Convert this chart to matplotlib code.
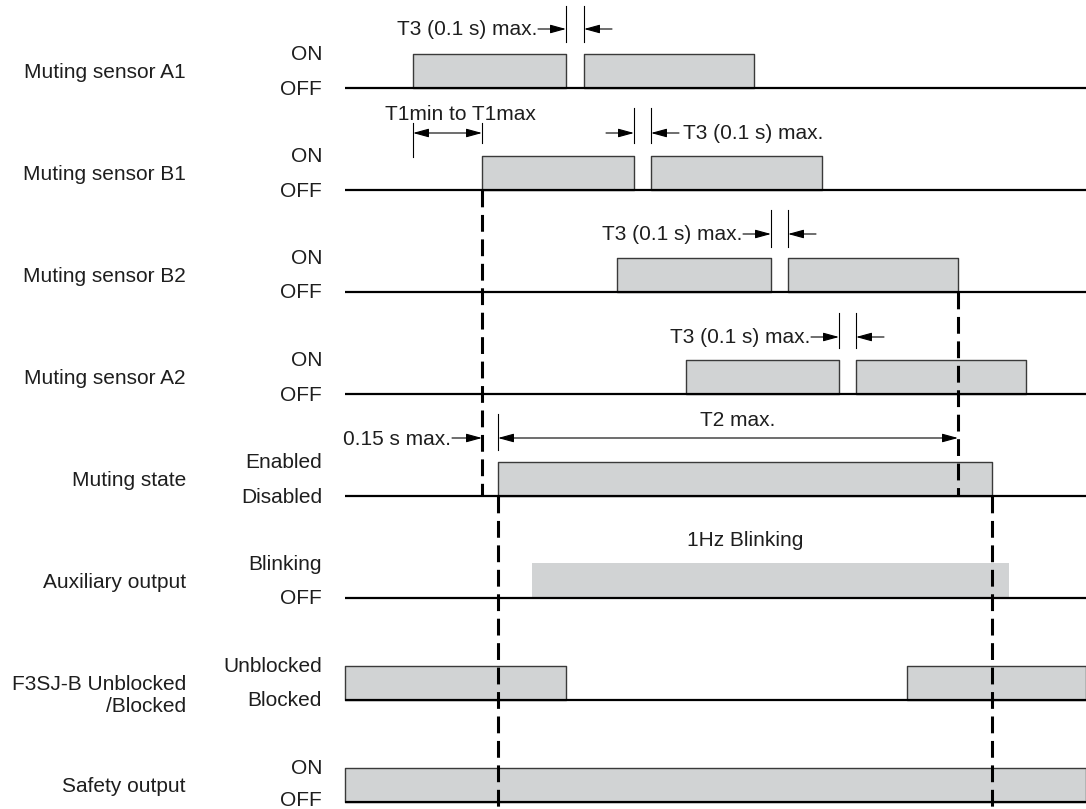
import matplotlib
matplotlib.use("Agg")
import matplotlib.pyplot as plt

plt.rcParams['font.family'] = ['Liberation Sans', 'DejaVu Sans']

# ---------------- data ----------------
lane_names = ["Muting sensor A1", "Muting sensor B1", "Muting sensor B2",
              "Muting sensor A2", "Muting state", "Auxiliary output",
              "F3SJ-B Unblocked\n/Blocked", "Safety output"]
high_labels = ["ON", "ON", "ON", "ON", "Enabled", "Blinking", "Unblocked", "ON"]
low_labels = ["OFF", "OFF", "OFF", "OFF", "Disabled", "OFF", "Blocked", "OFF"]
# high intervals per lane (time axis in arbitrary units)
pulses_a1 = [(413, 566), (584, 754)]
pulses_b1 = [(482, 634), (651, 822)]
pulses_b2 = [(617, 771), (788, 958)]
pulses_a2 = [(686, 839), (856, 1026)]
pulses_mute = [(498, 992)]
pulses_aux = [(532, 1009)]
pulses_f3sj = [(345, 566), (907, 1086)]
pulses_safety = [(345, 1086)]
all_pulses = [pulses_a1, pulses_b1, pulses_b2, pulses_a2,
              pulses_mute, pulses_aux, pulses_f3sj, pulses_safety]
t_start, t_end = 345, 1086
t3_label = "T3 (0.1 s) max."
t1_label = "T1min to T1max"
t2_label = "T2 max."
delay_label = "0.15 s max."
blink_label = "1Hz Blinking"

# ---------------- layout ----------------
W, H = 1086, 809
fig = plt.figure(figsize=(W / 100, H / 100), dpi=100)
ax = fig.add_axes([0, 0, 1, 1])
ax.set_xlim(0, W)
ax.set_ylim(H, 0)
ax.axis('off')

FS = 15
TC = '#1e1e1e'
fill = '#d1d3d4'
edge = '#3a3a3a'
first_base, spacing, ph = 88, 102, 34
bases = [first_base + i * spacing for i in range(len(lane_names))]
n = len(lane_names)

for i, (name, hi, lo, pl) in enumerate(zip(lane_names, high_labels, low_labels, all_pulses)):
    b = bases[i]
    is_aux = (i == 5)
    ax.broken_barh([(s, e - s) for s, e in pl], (b - ph - (1 if is_aux else 0), ph + (1 if is_aux else 0)),
                   facecolor=fill, edgecolor='none' if is_aux else edge,
                   linewidth=0 if is_aux else 1.0, zorder=2)
    ax.plot([t_start, t_end], [b, b], color='black', lw=1.6, zorder=3,
            solid_capstyle='butt')
    if '\n' in name:
        ax.text(186, b - 5, name, ha='right', va='center', fontsize=FS,
                linespacing=1.2, color=TC)
    else:
        ax.text(186, b - 16, name, ha='right', va='center', fontsize=FS, color=TC)
    ax.text(322, b - 34, hi, ha='right', va='center', fontsize=FS, color=TC)
    ly = b + 1 if i < n - 1 else b - 2
    ax.text(322, ly, lo, ha='right', va='center', fontsize=FS, color=TC)

# dashed event lines
b_b1, b_b2, b_mute = bases[1], bases[2], bases[4]
dkw = dict(color='black', lw=2.2, dashes=(5.5, 2.5), zorder=4)
ax.plot([pulses_b1[0][0]] * 2, [b_b1, b_mute], **dkw)
ax.plot([pulses_b2[-1][1]] * 2, [b_b2, b_mute], **dkw)
ax.plot([pulses_mute[0][0]] * 2, [b_mute, H], **dkw)
ax.plot([pulses_mute[0][1]] * 2, [b_mute, H], **dkw)

arrow_r = dict(arrowstyle='-|>,head_length=0.8,head_width=0.22', color='black',
               lw=0.8, shrinkA=0, shrinkB=0, mutation_scale=12)
arrow_d = dict(arrowstyle='<|-|>,head_length=0.8,head_width=0.22', color='black',
               lw=0.8, shrinkA=0, shrinkB=0, mutation_scale=12)


def vtick(x, y0, y1):
    ax.plot([x, x], [y0, y1], color='black', lw=0.8, zorder=5)


def t3_gap(gap, ya, yb, yarr, text_side):
    x0, x1 = gap
    vtick(x0, ya, yb)
    vtick(x1, ya, yb)
    ax.annotate('', xy=(x0, yarr), xytext=(x0 - 28, yarr), arrowprops=arrow_r)
    ax.annotate('', xy=(x1, yarr), xytext=(x1 + 28, yarr), arrowprops=arrow_r)
    if text_side == 'left':
        ax.text(x0 - 29, yarr, t3_label, ha='right', va='center', fontsize=FS, color=TC)
    else:
        ax.text(x1 + 32, yarr, t3_label, ha='left', va='center', fontsize=FS, color=TC)


t3_gap((pulses_a1[0][1], pulses_a1[1][0]), 6, 42, 29, 'left')
t3_gap((pulses_b1[0][1], pulses_b1[1][0]), 108, 143, 133, 'right')
t3_gap((pulses_b2[0][1], pulses_b2[1][0]), 210, 247, 234, 'left')
t3_gap((pulses_a2[0][1], pulses_a2[1][0]), 313, 348, 337, 'left')

# T1
x_a1, x_b1 = pulses_a1[0][0], pulses_b1[0][0]
vtick(x_a1, 123, 157)
vtick(x_b1, 123, 143)
ax.annotate('', xy=(x_b1, 133), xytext=(x_a1, 133), arrowprops=arrow_d)
ax.text(385, 114, t1_label, ha='left', va='center', fontsize=FS, color=TC)

# 0.15 s and T2
x_m0 = pulses_mute[0][0]
x_b2e = pulses_b2[-1][1]
vtick(x_m0, 414, 450)
ax.annotate('', xy=(x_b1, 438), xytext=(x_b1 - 30, 438), arrowprops=arrow_r)
ax.text(x_b1 - 31, 439, delay_label, ha='right', va='center', fontsize=FS, color=TC)
ax.annotate('', xy=(x_b2e, 438), xytext=(x_m0, 438), arrowprops=arrow_d)
ax.text(738, 420, t2_label, ha='center', va='center', fontsize=FS, color=TC)

# blinking label
ax.text(745, 540, blink_label, ha='center', va='center', fontsize=FS, color=TC)

fig.savefig('out.png', dpi=100)
